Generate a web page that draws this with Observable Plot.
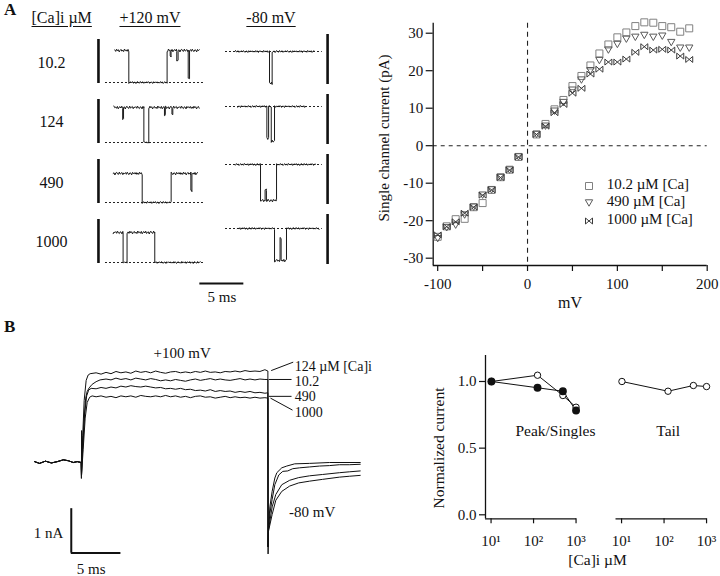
<!DOCTYPE html>
<html><head><meta charset="utf-8">
<script src="https://cdn.jsdelivr.net/npm/d3@7"></script>
<script src="https://cdn.jsdelivr.net/npm/@observablehq/plot@0.6"></script>
<style>
body{margin:0;background:#fff;}
#fig{position:relative;width:720px;height:576px;overflow:hidden;background:#fff;font-family:"Liberation Serif","Times New Roman",serif;color:#111;}
.lbl{position:absolute;white-space:nowrap;line-height:1;}
.box{position:absolute;}
</style></head><body><div id="fig"></div>
<script>
// ================= DATA =================
// --- Panel A (left): single-channel records ---
const rowsCa = ["10.2", "124", "490", "1000"];
const pulseCols = ["+120 mV", "-80 mV"];
// display levels (1 unit = 1 px of the original record) of closed and open current
const closedLevel = {"+120 mV": [0, 0, 0, 0], "-80 mV": [31, 36, 38, 34]};
const openLevel = {"+120 mV": [32, 35, 29, 30], "-80 mV": [-1, 1, 2, 2]};
// record start / end (ms)
const traceSpan = {
  "+120 mV": [[1.06, 10.7], [0.95, 10.6], [0.87, 10.5], [0.87, 10.8]],
  "-80 mV": [[1.14, 10.0], [1.4, 9.1], [1.14, 10.23], [1.33, 10.6]]
};
// gating events: [time ms, fraction open]
const gating = {
  "+120 mV": [
    [[1.06, 1], [2.65, 0], [7.0, 1], [7.35, 0.82], [7.45, 1], [8.1, 0.7], [8.25, 1], [9.4, 0.12], [9.55, 1]],
    [[0.95, 1], [1.95, 0.68], [2.05, 1], [4.36, 0], [4.92, 1], [6.7, 0.78], [6.8, 1], [7.55, 0.82], [7.65, 1]],
    [[0.87, 1], [4.17, 0], [7.46, 1], [9.7, 0.38], [9.82, 1]],
    [[0.87, 1], [2.0, 0], [2.45, 1], [5.6, 0]]
  ],
  "-80 mV": [
    [[1.14, 0], [5.0, 1], [5.3, 0]],
    [[1.4, 0], [4.7, 0.9], [4.9, 0], [5.2, 1], [5.57, 0]],
    [[1.14, 0], [3.98, 1], [4.5, 0.7], [4.65, 1], [5.8, 0]],
    [[1.33, 0], [5.57, 1], [6.2, 0.32], [6.32, 1], [6.93, 0]]
  ]
};
const dashedSpan = {"+120 mV": [0, 11.17], "-80 mV": [0, 11.0]};
const currentBar = {"+120 mV": {t: -0.8, y1: -1, y2: 43}, "-80 mV": {t: 11.6, y1: -2, y2: 48}};
const timeBarA = {col: "+120 mV", row: "1000", t1: 10.72, t2: 15.72, y: -21, ty: -35, label: "5 ms"};
// recording noise (display units)
const noise = [0.6,-0.9,1.3,-0.3,0.8,-1.4,0.2,1.1,-0.7,0.4,-1.1,1.5,-0.2,0.5,-0.8,1.1,-1.3,0.3,0.9,-0.5,1.3,-1.0,0.1,0.7,-1.5,0.6,1.2,-0.4,-0.9,1.4,-0.6,0.2,1.0,-1.2,0.5,-0.1,0.9,-0.8,1.3,-0.3,-1.1,0.7,0.4,-1.4,1.1,-0.2,0.8,-0.6,1.0,-0.9];

// --- Panel A (right): I-V relation ---
const ivVoltage = [-100,-90,-80,-70,-60,-50,-40,-30,-20,-10,10,20,30,40,50,60,70,80,90,100,110,120,130,140,150,160,170,180];
const iCa10 = [-24.3,-21.5,-19.6,-19.5,-16.4,-15.3,-11.8,-8.4,-6.4,-3.0,3.0,5.8,9.7,12.2,15.9,18.6,21.4,24.6,27.0,28.9,30.2,31.9,32.9,32.8,31.9,31.6,30.4,31.3];
const iCa490 = [-24.8,-21.9,-21.2,-18.5,-16.4,-13.2,-11.8,-8.5,-6.5,-3.0,3.0,5.2,9.2,11.5,14.8,17.5,20.0,22.7,25.5,27.0,28.4,28.9,29.4,28.9,29.2,27.5,26.0,26.0];
const iCa1000 = [-23.8,-21.6,-20.3,-18.0,-16.4,-13.2,-11.8,-8.5,-6.5,-3.0,3.0,5.2,8.8,11.0,14.0,15.3,19.1,20.4,22.3,22.3,23.1,24.9,26.4,25.5,25.7,25.5,23.9,23.0];
const ivSeries = ["10.2 µM [Ca]", "490 µM [Ca]", "1000 µM [Ca]"];
const ivXTicks = [-100, -50, 0, 50, 100, 150, 200];
const ivYTicks = [-30, -20, -10, 0, 10, 20, 30];

// --- Panel B (left): whole-cell currents (t ms, I nA) ---
const wcBaseline = [[-4.7,0.02],[-4.2,-0.02],[-3.6,0.03],[-3.0,-0.01],[-2.4,0.02],[-1.8,0.06],[-1.3,0.04],[-0.8,0.0],[-0.4,0.02],[0,0.0]];
const wcTraces = {
  "124": [[0.02,-0.36],[0.04,0.72],[0.06,0.05],[0.15,0.6],[0.3,1.4],[0.5,1.85],[0.7,1.97],[0.9,2.0],[1.5,2.02],[2.0,1.99],[2.5,2.03],[3.0,2.0],[3.5,2.05],[4.0,2.02],[4.5,2.04],[5.0,2.01],[5.5,2.06],[6.0,2.03],[6.5,2.05],[7.0,2.02],[7.5,2.06],[8.0,2.03],[8.5,2.01],[9.0,2.04],[9.5,2.05],[10.0,2.02],[10.5,2.04],[11.0,2.02],[11.5,2.05],[12.0,2.03],[12.5,2.06],[13.0,2.03],[13.5,2.04],[14.0,2.02],[14.5,2.05],[15.0,2.04],[15.5,2.06],[16.0,2.04],[16.5,2.07],[17.0,2.05],[17.5,2.06],[18.0,2.05],[18.5,2.09],[18.8,2.06],
          [18.82,-2.06],[18.86,-1.5],[19.0,-1.15],[19.23,-0.83],[19.5,-0.5],[19.9,-0.28],[20.3,-0.2],[20.8,-0.19],[21.3,-0.14],[22,-0.12],[23,-0.1],[24,-0.08],[25,-0.07],[26,-0.05],[27,-0.05],[28.1,-0.04]],
  "10.2": [[0.03,-0.3],[0.1,0.2],[0.3,1.0],[0.45,1.45],[0.6,1.6],[0.8,1.68],[1.1,1.76],[1.5,1.82],[1.9,1.86],[2.5,1.88],[3.0,1.86],[3.5,1.9],[4.0,1.87],[4.5,1.89],[5.0,1.86],[5.5,1.9],[6.0,1.88],[6.5,1.86],[7.0,1.89],[7.5,1.87],[8.0,1.84],[8.5,1.86],[9.0,1.84],[9.5,1.87],[10.0,1.85],[10.5,1.83],[11.0,1.86],[11.5,1.88],[12.0,1.85],[12.5,1.87],[13.0,1.89],[13.5,1.86],[14.0,1.88],[14.5,1.86],[15.0,1.85],[15.5,1.87],[16.0,1.89],[16.5,1.86],[17.0,1.88],[17.5,1.86],[18.0,1.88],[18.5,1.87],[18.8,1.87],
           [18.82,-1.9],[18.86,-1.46],[19.0,-1.0],[19.23,-0.65],[19.5,-0.35],[19.7,-0.23],[20.2,-0.12],[20.7,-0.08],[21.5,-0.03],[23,-0.02],[25,0.0],[28.1,0.0]],
  "490": [[0.03,-0.3],[0.15,0.3],[0.35,1.1],[0.55,1.5],[0.75,1.63],[1.0,1.67],[1.5,1.66],[2.0,1.69],[2.5,1.67],[3.0,1.7],[3.5,1.68],[4.0,1.72],[4.5,1.7],[5.0,1.73],[5.5,1.71],[6.0,1.7],[6.5,1.72],[7.0,1.7],[7.5,1.68],[8.0,1.69],[8.5,1.66],[9.0,1.67],[9.5,1.65],[10.0,1.67],[10.5,1.64],[11.0,1.65],[11.5,1.62],[12.0,1.63],[12.5,1.61],[13.0,1.64],[13.5,1.6],[14.0,1.62],[14.5,1.6],[15.0,1.61],[15.5,1.58],[16.0,1.6],[16.5,1.58],[17.0,1.6],[17.5,1.57],[18.0,1.58],[18.5,1.56],[18.8,1.57],
          [18.82,-1.9],[18.86,-1.52],[19.23,-1.0],[19.6,-0.72],[20.2,-0.5],[21,-0.4],[21.9,-0.34],[23,-0.3],[24.3,-0.27],[26,-0.23],[27,-0.21],[28.1,-0.19]],
  "1000": [[0.03,-0.3],[0.2,0.3],[0.4,1.0],[0.6,1.35],[0.85,1.47],[1.1,1.5],[1.5,1.48],[2.0,1.5],[2.5,1.47],[3.0,1.49],[3.5,1.46],[4.0,1.5],[4.5,1.48],[5.0,1.5],[5.5,1.47],[6.0,1.51],[6.5,1.49],[7.0,1.48],[7.5,1.5],[8.0,1.48],[8.5,1.51],[9.0,1.48],[9.5,1.5],[10.0,1.47],[10.5,1.49],[11.0,1.46],[11.5,1.49],[12.0,1.5],[12.5,1.47],[13.0,1.48],[13.5,1.45],[14.0,1.47],[14.5,1.49],[15.0,1.46],[15.5,1.48],[16.0,1.46],[16.5,1.47],[17.0,1.45],[17.5,1.47],[18.0,1.45],[18.5,1.46],[18.8,1.45],
           [18.82,-1.9],[18.86,-1.55],[19.23,-1.17],[19.6,-0.85],[20.2,-0.65],[21,-0.53],[21.9,-0.46],[23,-0.42],[24.3,-0.38],[26,-0.33],[27,-0.31],[28.1,-0.29]]
};
const wcLabels = [
  {t: 21.5, i: 2.17, text: "124 µM [Ca]i"}, {t: 21.5, i: 1.82, text: "10.2"},
  {t: 21.5, i: 1.48, text: "490"}, {t: 21.5, i: 1.12, text: "1000"}
];
const wcLeaders = [
  {t1: 19.13, i1: 2.07, t2: 21.35, i2: 2.26}, {t1: 18.89, i1: 1.87, t2: 21.18, i2: 1.87},
  {t1: 18.89, i1: 1.49, t2: 21.18, i2: 1.49}, {t1: 19.06, i1: 1.45, t2: 21.28, i2: 1.18}
];
const wcVoltLabels = [{t: 10.17, i: 2.46, text: "+100 mV"}, {t: 23.26, i: -1.12, text: "-80 mV"}];
const wcScale = {t0: -1.0, i0: -1.04, ms: 5, nA: 1};

// --- Panel B (right): normalized current vs [Ca]i ---
const caConc = [10.2, 124, 490, 1000];
const peakNorm = [1.0, 0.953, 0.927, 0.782];      // filled
const singlesNorm = [1.0, 1.047, 0.895, 0.807];   // open
const tailNorm = [1.0, 0.927, 0.97, 0.962];       // open
const normPanels = ["Peak/Singles", "Tail"];
const normYTicks = [0, 0.5, 1.0];
const normXTicks = [10, 100, 1000];

// ================= HELPERS =================
const fig = document.getElementById("fig");
const FONT = '"Liberation Serif","Times New Roman",serif';
function put(node, left, top) {
  const d = document.createElement("div");
  d.className = "box"; d.style.left = left + "px"; d.style.top = top + "px";
  d.appendChild(node); fig.appendChild(d); return d;
}
function label(text, x, y, o = {}) {
  const {size = 15, anchor = "middle", weight = "normal", underline = false, rotate = 0} = o;
  const d = document.createElement("div");
  d.className = "lbl"; d.textContent = text;
  d.style.left = x + "px"; d.style.top = y + "px";
  d.style.fontSize = size + "px"; d.style.fontWeight = weight;
  if (underline) { d.style.textDecoration = "underline"; d.style.textUnderlineOffset = "3px"; }
  const tx = anchor === "middle" ? "-50%" : anchor === "end" ? "-100%" : "0";
  d.style.transform = `translate(${tx},-50%)` + (rotate ? ` rotate(${rotate}deg)` : "");
  fig.appendChild(d);
}
const baseStyle = {fontFamily: FONT, fontSize: "15px", color: "#111", background: "none", overflow: "visible"};

// custom symbols
const triDown = {draw(ctx, size) { const s = Math.sqrt(size) * 1.05, h = s * 0.87;
  ctx.moveTo(-s / 2, -h / 2); ctx.lineTo(s / 2, -h / 2); ctx.lineTo(0, h / 2); ctx.closePath(); }};
const bowtie = {draw(ctx, size) { const w = Math.sqrt(size), h = w * 0.85;
  ctx.moveTo(-w / 2, -h / 2); ctx.lineTo(w / 2, h / 2); ctx.lineTo(w / 2, -h / 2); ctx.lineTo(-w / 2, h / 2); ctx.closePath(); }};
const ivSymbols = [d3.symbolSquare, triDown, bowtie];
const ivColors = ["#808080", "#5a5a5a", "#3a3a3a"];

// ================= PANEL A LEFT =================
const dtSample = 0.1;
const singleTraces = [], dashedLines = [], currentBars = [];
pulseCols.forEach((col, ci) => {
  rowsCa.forEach((row, ri) => {
    const c = closedLevel[col][ri], o = openLevel[col][ri];
    const [t0, t1] = traceSpan[col][ri];
    const ev = gating[col][ri];
    const id = col + "|" + row;
    let e = 0, frac = ev[0][1], k = ri * 11 + ci * 29;
    const lvl = (f, z) => c + f * (o - c) + z * (0.7 + 0.3 * f);
    const n = Math.round((t1 - t0) / dtSample);
    for (let s = 0; s <= n; s++) {
      const t = t0 + s * dtSample;
      while (e + 1 < ev.length && ev[e + 1][0] <= t + 1e-9) {
        e++;
        const z = noise[k % noise.length];
        singleTraces.push({id, col, row, t: ev[e][0], y: lvl(frac, z)});
        frac = ev[e][1];
        singleTraces.push({id, col, row, t: ev[e][0], y: lvl(frac, z)});
      }
      singleTraces.push({id, col, row, t, y: lvl(frac, noise[k++ % noise.length])});
    }
    dashedLines.push({col, row, y: c, t1: dashedSpan[col][0], t2: dashedSpan[col][1]});
    currentBars.push({col, row, ...currentBar[col]});
  });
});
const plotA1 = Plot.plot({
  width: 246, height: 246, marginLeft: 6.2, marginRight: 5.4, marginTop: 6, marginBottom: 6,
  x: {domain: [-1, 12], axis: null}, y: {domain: [-4, 50], axis: null},
  fx: {domain: pulseCols, paddingInner: 0.0467, paddingOuter: 0, axis: null, round: false},
  fy: {domain: rowsCa, paddingInner: 0.1, paddingOuter: 0, axis: null, round: false},
  style: baseStyle,
  marks: [
    Plot.ruleY(dashedLines, {y: "y", x1: "t1", x2: "t2", fx: "col", fy: "row", stroke: "#222", strokeWidth: 1, strokeDasharray: "2,2"}),
    Plot.ruleX(currentBars, {x: "t", y1: "y1", y2: "y2", fx: "col", fy: "row", stroke: "#111", strokeWidth: 2.6}),
    Plot.line(singleTraces, {x: "t", y: "y", z: "id", fx: "col", fy: "row", stroke: "#1a1a1a", strokeWidth: 1}),
    Plot.ruleY([timeBarA], {y: "y", x1: "t1", x2: "t2", fx: "col", fy: "row", stroke: "#111", strokeWidth: 2}),
    Plot.text([timeBarA], {x: d => (d.t1 + d.t2) / 2, y: "ty", text: "label", fx: "col", fy: "row", fontSize: 15})
  ]
});
put(plotA1, 90, 26);

// ================= PANEL A RIGHT =================
const ivX = [-105, 200], ivY = [-31.95, 32.67];
const ivData = ivSeries.map((s, si) => ivVoltage.map((v, j) => ({v, i: [iCa10, iCa490, iCa1000][si][j], s})));
const plotA2 = Plot.plot({
  width: 380, height: 310, marginLeft: 92.7, marginRight: 13.3, marginTop: 22.7, marginBottom: 45,
  x: {domain: ivX}, y: {domain: ivY},
  style: baseStyle,
  marks: [
    Plot.ruleX([0], {stroke: "#222", strokeWidth: 1.1, strokeDasharray: "5,4"}),
    Plot.ruleY([0], {stroke: "#222", strokeWidth: 1.1, strokeDasharray: "4,4"}),
    Plot.ruleX([ivX[0]], {stroke: "#111", strokeWidth: 1.3}),
    Plot.ruleY([ivY[0]], {stroke: "#111", strokeWidth: 1.3}),
    Plot.axisY({ticks: ivYTicks, tickSize: 7, tickPadding: 3, tickFormat: d => String(d), label: null, strokeWidth: 1.2}),
    Plot.axisX({ticks: ivXTicks, tickSize: 6, tickPadding: 7, tickFormat: d => d % 100 === 0 ? String(d) : "", label: null, strokeWidth: 1.2}),
    ...ivData.map((arr, si) => Plot.dot(arr, {x: "v", y: "i", r: 3.95, symbol: ivSymbols[si], stroke: ivColors[si], strokeWidth: 1, fill: "none"}))
  ]
});
put(plotA2, 340, 0);

// legend
const legendY = [183.5, 201, 218.5];
ivSeries.forEach((name, si) => {
  const p = d3.path(); ivSymbols[si].draw(p, 49);
  const svg = d3.create("svg").attr("width", 12).attr("height", 12).attr("viewBox", "-6 -6 12 12");
  svg.append("path").attr("d", p.toString()).attr("fill", "none").attr("stroke", ivColors[si]).attr("stroke-width", 1);
  put(svg.node(), 582.5, legendY[si] - 6);
  label(name, 606.7, legendY[si], {anchor: "start", size: 15});
});

// ================= PANEL B LEFT =================
const wcSeries = [];
Object.entries(wcTraces).forEach(([ca, pts]) => {
  [...wcBaseline, ...pts].forEach(([t, i]) => wcSeries.push({ca, t, i}));
});
const pxMs = 9.93, pxNa = 44.4, t0px = 80.7, i0px = 462;
const plotB1 = Plot.plot({
  width: 360, height: 256, marginLeft: 0, marginRight: 0, marginTop: 0, marginBottom: 0,
  x: {domain: [-t0px / pxMs, (360 - t0px) / pxMs], axis: null},
  y: {domain: [(i0px - 576) / pxNa, (i0px - 320) / pxNa], axis: null},
  style: baseStyle,
  marks: [
    Plot.line(wcSeries, {x: "t", y: "i", z: "ca", stroke: "#111", strokeWidth: 1}),
    Plot.link(wcLeaders, {x1: "t1", y1: "i1", x2: "t2", y2: "i2", stroke: "#111", strokeWidth: 1}),
    Plot.text(wcLabels, {x: "t", y: "i", text: "text", textAnchor: "start", fontSize: 14}),
    Plot.text(wcVoltLabels, {x: "t", y: "i", text: "text", fontSize: 15}),
    Plot.ruleX([wcScale], {x: "t0", y1: "i0", y2: d => d.i0 - d.nA, stroke: "#111", strokeWidth: 2}),
    Plot.ruleY([wcScale], {y: d => d.i0 - d.nA, x1: "t0", x2: d => d.t0 + d.ms, stroke: "#111", strokeWidth: 2}),
    Plot.text([wcScale], {x: d => d.t0 - 0.8, y: d => d.i0 - d.nA / 2 - 0.05, text: d => `${d.nA} nA`, textAnchor: "end", fontSize: 15}),
    Plot.text([wcScale], {x: d => d.t0 + 2.0, y: d => d.i0 - d.nA - 0.36, text: d => `${d.ms} ms`, fontSize: 15})
  ]
});
put(plotB1, 0, 320);

// ================= PANEL B RIGHT =================
const normX = [7.4, 1030], normY = [-0.03, 1.195];
const mk = (panel, vals, kind) => caConc.map((ca, j) => ({panel, ca, v: vals[j], kind}));
const openPeak = mk("Peak/Singles", singlesNorm, "open");
const filledPeak = mk("Peak/Singles", peakNorm, "filled");
const openTail = mk("Tail", tailNorm, "open");
const sup = {1: "¹", 2: "²", 3: "³"};
const plotB2 = Plot.plot({
  width: 360, height: 246, marginLeft: 125, marginRight: 13.4, marginTop: 25, marginBottom: 57.7,
  x: {type: "log", domain: normX}, y: {domain: normY},
  fx: {domain: normPanels, paddingInner: 0.302, paddingOuter: 0, axis: null, round: false},
  style: baseStyle,
  marks: [
    Plot.ruleY([normY[0]], {stroke: "#111", strokeWidth: 1.3}),
    Plot.ruleX([{p: normPanels[0], x: normX[0]}], {x: "x", fx: "p", stroke: "#111", strokeWidth: 1.3}),
    Plot.axisY({ticks: normYTicks, tickSize: 6, tickPadding: 3, tickFormat: d3.format(".1f"), label: null, strokeWidth: 1.2}),
    Plot.axisX({ticks: normXTicks, tickSize: 5, tickPadding: 12, tickFormat: d => "10" + sup[Math.round(Math.log10(d))], label: null, strokeWidth: 1.2}),
    Plot.line(openPeak, {x: "ca", y: "v", fx: "panel", stroke: "#111", strokeWidth: 1}),
    Plot.line(filledPeak, {x: "ca", y: "v", fx: "panel", stroke: "#111", strokeWidth: 1}),
    Plot.line(openTail, {x: "ca", y: "v", fx: "panel", stroke: "#111", strokeWidth: 1}),
    Plot.dot([...openPeak, ...openTail], {x: "ca", y: "v", fx: "panel", r: 3.2, fill: "white", stroke: "#111", strokeWidth: 1}),
    Plot.dot(filledPeak, {x: "ca", y: "v", fx: "panel", r: 3.2, fill: "#111", stroke: "#111"}),
    Plot.text([{p: "Peak/Singles", x: 328, y: 0.627}, {p: "Tail", x: 125, y: 0.627}], {x: "x", y: "y", fx: "p", text: "p", fontSize: 15.5})
  ]
});
put(plotB2, 360, 330);

// ================= TEXT =================
label("A", 4, 9, {anchor: "start", size: 17, weight: "bold"});
label("B", 4, 326, {anchor: "start", size: 17, weight: "bold"});
label("[Ca]i µM", 61.7, 17.5, {size: 16, underline: true});
label("+120 mV", 150, 17.5, {size: 16, underline: true});
label("-80 mV", 271, 17.5, {size: 16, underline: true});
[[63.3], [121.7], [182.7], [241.7]].forEach(([y], i) => label(rowsCa[i], 51.5, y, {size: 16}));
label("Single channel current (pA)", 383.5, 137.5, {size: 15, rotate: -90});
label("mV", 570, 303, {size: 16});
label("Normalized current", 439.3, 448.3, {size: 15.5, rotate: -90});
label("[Ca]i µM", 597.5, 560, {size: 15.5});
</script></body></html>
